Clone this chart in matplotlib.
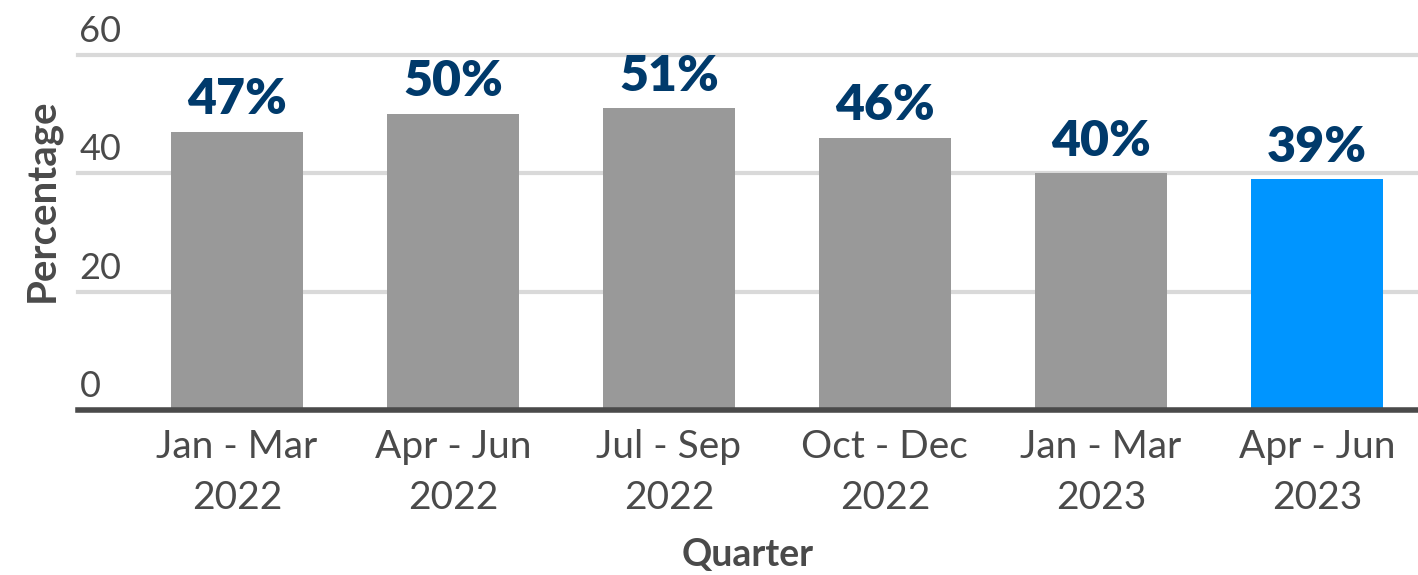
import matplotlib
matplotlib.use("agg")
import matplotlib.pyplot as plt
import matplotlib.transforms as mtransforms

quarters = ["Jan - Mar\n2022", "Apr - Jun\n2022", "Jul - Sep\n2022",
            "Oct - Dec\n2022", "Jan - Mar\n2023", "Apr - Jun\n2023"]
percentages = [47, 50, 51, 46, 40, 39]
y_ticks = [0, 20, 40, 60]

GREY = "#999999"
BLUE = "#0095ff"
NAVY = "#003a6b"
TEXT = "#4a4a4a"

plt.rcParams["font.family"] = ["Lato", "DejaVu Sans"]

fig = plt.figure(figsize=(14.18, 5.75), dpi=100)
ax = fig.add_axes([78 / 1418, 165 / 575, 1 - 78 / 1418, 355 / 575])

x = list(range(len(quarters)))
colors = [GREY] * (len(quarters) - 1) + [BLUE]
bars = ax.bar(x, percentages, width=0.615, color=colors, zorder=3)

for xi, val in zip(x, percentages):
    ax.annotate(f"{val}%", (xi, val), xytext=(0, 7), textcoords="offset points",
                ha="center", va="bottom", fontsize=36, fontweight="heavy",
                color=NAVY, zorder=4)

ax.set_xlim(-0.736, 5.468)
ax.set_ylim(0, 60)

# horizontal gridlines, labels sit just above each line
for t in y_ticks[1:]:
    ax.axhline(t, color="#d9d9d9", lw=3, zorder=1, clip_on=False)
trans = mtransforms.blended_transform_factory(ax.transAxes, ax.transData)
for t in y_ticks:
    ax.annotate(str(t), (0, t), xycoords=trans, xytext=(1, 5),
                textcoords="offset points", ha="left", va="bottom",
                fontsize=26, color=TEXT)
ax.set_yticks([])

for side in ["left", "right", "top"]:
    ax.spines[side].set_visible(False)
ax.spines["bottom"].set_color(TEXT)
ax.spines["bottom"].set_linewidth(4)
ax.spines["bottom"].set_zorder(5)

ax.set_xticks(x)
ax.set_xticklabels(quarters, fontsize=28, color=TEXT, linespacing=1.5)
ax.tick_params(axis="x", length=0, pad=14)

ax.set_xlabel("Quarter", fontsize=27, fontweight="bold", color=TEXT, labelpad=16)
fig.text(42 / 1418, 1 - 200 / 575, "Percentage", rotation=90, ha="center",
         va="center", fontsize=29, fontweight="bold", color=TEXT)

fig.savefig("out.png", dpi=100)
